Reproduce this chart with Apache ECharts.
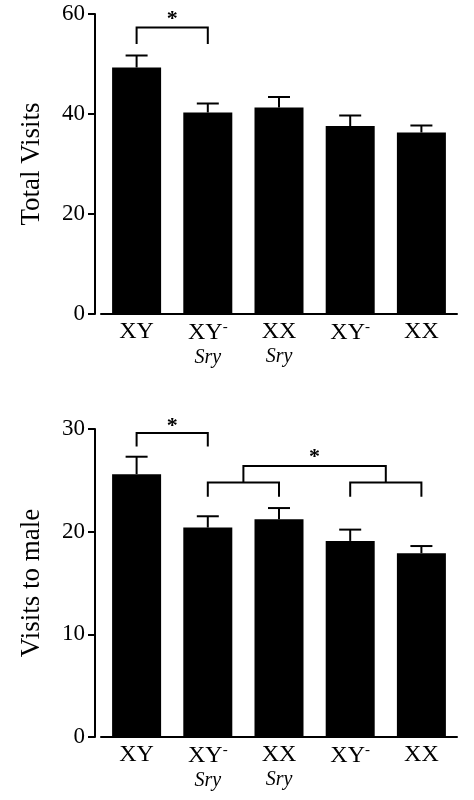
<!DOCTYPE html><html><head><meta charset="utf-8">
<script src="https://cdn.jsdelivr.net/npm/echarts@6/dist/echarts.min.js"></script>
<style>html,body{margin:0;background:#fff}#c{width:474px;height:800px}</style></head><body><div id="c"></div>
<script>
const categories = ['XY','XY-Sry','XX Sry','XY-','XX'];
const totalVisits = [49.3, 40.3, 41.3, 37.6, 36.3];
const totalErr = [51.7, 42.1, 43.4, 39.7, 37.7];
const maleVisits = [25.6, 20.4, 21.2, 19.1, 17.9];
const maleErr = [27.3, 21.5, 22.3, 20.2, 18.6];
const totalTicks = [0,20,40,60];
const maleTicks = [0,10,20,30];
const topBrackets = [[[0,54],[0,57.3],[1,57.3],[1,54]]];
const topStars = [[0.5,59]];
const botBrackets = [
  [[0,28.3],[0,29.6],[1,29.6],[1,28.3]],
  [[1,23.4],[1,24.8],[2,24.8],[2,23.4]],
  [[3,23.4],[3,24.8],[4,24.8],[4,23.4]],
  [[1.5,24.8],[1.5,26.4],[3.5,26.4],[3.5,24.8]]
];
const botStars = [[0.5,30.3],[2.5,27.2]];

const font = 'Liberation Serif';
const rich = {
  b:{fontFamily:font,fontSize:24,color:'#000'},
  s:{fontFamily:font,fontSize:15,color:'#000',verticalAlign:'top',padding:[0,0,10,0]},
  i:{fontFamily:font,fontSize:20,fontStyle:'italic',color:'#000',lineHeight:26}
};
function fmt(v){
  const m={'XY':'{b|XY}','XY-Sry':'{b|XY}{s|-}\n{i|Sry}','XX Sry':'{b|XX}\n{i|Sry}','XY-':'{b|XY}{s|-}','XX':'{b|XX}'};
  return m[v];
}
function pt(api,p){
  const a=Math.floor(p[0]),b=Math.ceil(p[0]),f=p[0]-a;
  const ca=api.coord([a,p[1]]),cb=api.coord([b,p[1]]);
  return [ca[0]+(cb[0]-ca[0])*f, ca[1]];
}
function bracketSeries(idx,br){
  return {type:'custom',xAxisIndex:idx,yAxisIndex:idx,data:br.map((b,i)=>[i]),z:5,
    renderItem:(p,api)=>({type:'polyline',shape:{points:br[p.dataIndex].map(q=>pt(api,q))},style:{stroke:'#000',lineWidth:2,fill:null}})};
}
function starSeries(idx,st){
  return {type:'custom',xAxisIndex:idx,yAxisIndex:idx,data:st.map((s,i)=>[i]),z:5,
    renderItem:(p,api)=>{const c=pt(api,st[p.dataIndex]);return {type:'text',x:c[0],y:c[1],style:{text:'*',fontSize:22,fontWeight:'bold',fontFamily:font,fill:'#000',align:'center',verticalAlign:'middle'}};}};
}
function errSeries(idx,vals,errs){
  return {type:'custom',xAxisIndex:idx,yAxisIndex:idx,data:vals.map((v,i)=>[i,v,errs[i]]),z:1,
    renderItem:(p,api)=>{const a=api.coord([api.value(0),api.value(1)]),b=api.coord([api.value(0),api.value(2)]);
      return {type:'group',children:[
        {type:'line',shape:{x1:a[0],y1:a[1],x2:b[0],y2:b[1]},style:{stroke:'#000',lineWidth:2}},
        {type:'line',shape:{x1:b[0]-11,y1:b[1],x2:b[0]+11,y2:b[1]},style:{stroke:'#000',lineWidth:2}}]};}};
}
const xa=(i)=>({type:'category',gridIndex:i,data:categories,axisTick:{show:false},
  axisLine:{lineStyle:{color:'#000',width:2}},axisLabel:{formatter:fmt,rich,margin:6,interval:0}});
const ya=(i,max,iv,name,gap)=>({type:'value',gridIndex:i,min:0,max,interval:iv,name,nameLocation:'middle',nameGap:gap,offset:6,
  nameTextStyle:{fontFamily:font,fontSize:27,color:'#000'},splitLine:{show:false},
  axisLine:{show:true,lineStyle:{color:'#000',width:2}},axisTick:{show:true,length:7,lineStyle:{width:2}},
  axisLabel:{fontFamily:font,fontSize:23,color:'#000',margin:10}});
const chart=echarts.init(document.getElementById('c'));
chart.setOption({animation:false,
  grid:[{left:101,right:17,top:14,height:300},{left:101,right:17,top:429,height:308}],
  xAxis:[xa(0),xa(1)],
  yAxis:[ya(0,totalTicks[3],20,'Total Visits',50),ya(1,maleTicks[3],10,'Visits to male',50)],
  series:[
    {type:'bar',xAxisIndex:0,yAxisIndex:0,data:totalVisits,barWidth:49,itemStyle:{color:'#000'},z:2},
    {type:'bar',xAxisIndex:1,yAxisIndex:1,data:maleVisits,barWidth:49,itemStyle:{color:'#000'},z:2},
    errSeries(0,totalVisits,totalErr),errSeries(1,maleVisits,maleErr),
    bracketSeries(0,topBrackets),bracketSeries(1,botBrackets),
    starSeries(0,topStars),starSeries(1,botStars)
  ]});
</script></body></html>
